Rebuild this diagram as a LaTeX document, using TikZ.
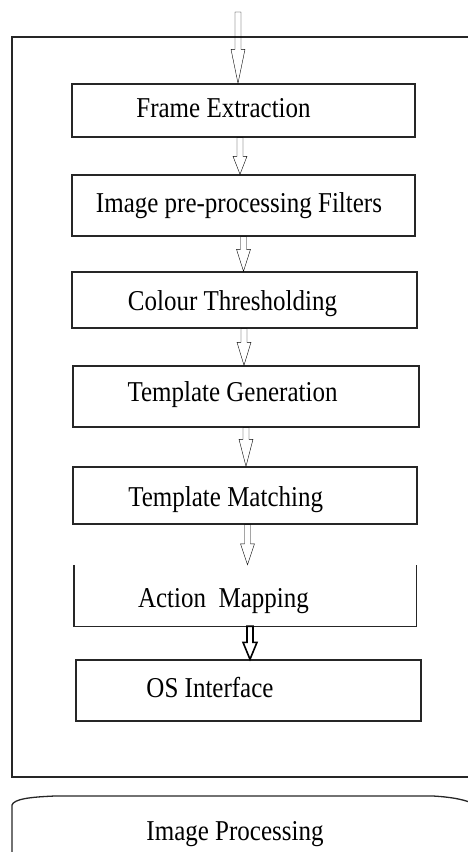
\documentclass[tikz,border=0pt]{standalone}
\usepackage{fontspec}
\setmainfont{Liberation Serif}
\usetikzlibrary{calc}
\newcommand{\tallcap}[1]{\scalebox{1}[1.15]{#1}}
\tikzset{
  stage/.style={draw=black!85, line width=1.4pt, inner sep=0pt},
  caption/.style={anchor=base, inner sep=0pt, font=\fontsize{25}{30}\selectfont},
  % hollow block arrow, straight down from the start point
  hollow/.style={draw=black!85, line width=1.2pt, fill=white,
    to path={let \p1=(\tikztostart), \p2=(\tikztotarget) in
      (\x1-3pt,\y1) -- (\x1-3pt,\y2+#1) -- (\x1-7pt,\y2+#1) -- (\x1,\y2)
      -- (\x1+7pt,\y2+#1) -- (\x1+3pt,\y2+#1) -- (\x1+3pt,\y1) -- cycle}},
  hollow/.default=20pt
}
\begin{document}
\begin{tikzpicture}[x=1pt,y=-1pt]
		\useasboundingbox (0,0) rectangle (468,852);
		% outer frame, open on the right
		\draw[line width=1.3pt, black!85] (472,37) -- (12,37) -- (12,777) -- (472,777);
		% the stages
		\node[stage, minimum width=343pt, minimum height=53pt] (fe) at (243.5,110.5) {};
		\node[stage, minimum width=343pt, minimum height=61pt] (ipf) at (243.5,205.5) {};
		\node[stage, minimum width=345pt, minimum height=56pt] (ct) at (244.5,300) {};
		\node[stage, minimum width=346pt, minimum height=61pt] (tg) at (246,396.5) {};
		\node[stage, minimum width=344pt, minimum height=57pt] (tm) at (245,495.5) {};
		\node[inner sep=0pt, minimum width=342pt, minimum height=61pt] (am) at (245,595.5) {};
		\draw[line width=1.4pt, black!85] (am.north west) -- (am.south west) -- (am.south east) -- (am.north east);
		\node[stage, minimum width=345pt, minimum height=61pt] (os) at (248.5,690.5) {};
		% labels
		\node[caption] (tfe) at (223.5,117) {\tallcap{Frame Extraction}};
		\node[caption] (tipf) at (239,212) {\tallcap{Image pre-processing Filters}};
		\node[caption] (tct) at (232.5,310) {\tallcap{Colour Thresholding}};
		\node[caption] (ttg) at (232.5,401) {\tallcap{Template Generation}};
		\node[caption] (ttm) at (225.7,506) {\tallcap{Template Matching}};
		\node[caption] (tam) at (223.5,607) {\tallcap{Action\ \ Mapping}};
		\node[caption] (tos) at (210,697) {\tallcap{OS Interface}};
		% arrows between the stages
		\coordinate (in) at (238,12);
		\draw (in) to[hollow=34pt] (fe.north);
		\draw ([xshift=-3.5pt]fe.south) to[hollow=18pt] (ipf.north);
		\draw (ipf.south) to[hollow=22pt] (ct.north);
		\draw ([xshift=-0.5pt]ct.south) to[hollow=23pt] (tg.north);
		\draw (tg.south) to[hollow=27pt] (tm.north);
		\draw ([xshift=2.5pt]tm.south) to[hollow=21pt] (am.north);
		\draw[line width=1.6pt, draw=black] ([xshift=5pt]am.south) to[hollow=17pt] (os.north);
		% image processing block at the bottom
		\draw[line width=1.3pt, black!85] (12,853) -- (12,805) .. controls (14,799) and (30,797) .. (55,796)
			-- (433,796) .. controls (450,797) and (462,799) .. (472,803);
		\node[caption] (tip) at (235,840) {\tallcap{Image Processing}};
	\end{tikzpicture}
\end{document}
